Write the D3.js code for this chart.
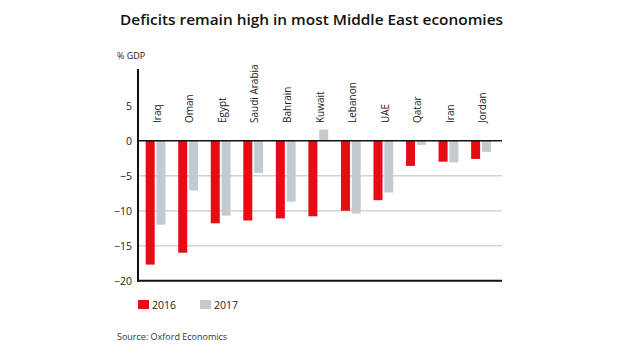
<!DOCTYPE html>
<html><head><meta charset="utf-8">
<script src="https://cdn.jsdelivr.net/npm/d3@7"></script>
<style>body{margin:0;background:#fff}svg{display:block}text{font-family:"Open Sans",sans-serif}</style>
</head><body><svg id="c" width="620" height="355"></svg>
<script>
const countries = ["Iraq","Oman","Egypt","Saudi Arabia","Bahrain","Kuwait","Lebanon","UAE","Qatar","Iran","Jordan"];
const values2016 = [-17.7,-16.0,-11.8,-11.4,-11.1,-10.8,-10.0,-8.5,-3.6,-3.0,-2.6];
const values2017 = [-12.0,-7.1,-10.7,-4.6,-8.7,1.6,-10.4,-7.4,-0.6,-3.1,-1.6];
const yTicks = [-20,-15,-10,-5,0,5];
const seriesNames = ["2016","2017"];
const colors = ["#ea0a14","#c3cbd0"];

const svg = d3.select("#c");
const x = d3.scaleBand().domain(countries).range([139,497]);
const y = d3.scaleLinear().domain([-20,10]).range([280.7,70.7]);
const sub = d3.scaleOrdinal().domain(seriesNames).range([-9.6,1.2]);
const barW = 9;

svg.append("text").attr("x",120).attr("y",25)
  .attr("font-size",15).attr("font-weight",600).attr("fill","#111")
  .attr("textLength",383).attr("lengthAdjust","spacingAndGlyphs")
  .text("Deficits remain high in most Middle East economies");
svg.append("text").attr("x",117).attr("y",59).attr("font-size",9).attr("fill","#222").text("% GDP");

// gridlines
svg.append("g").selectAll("line").data(yTicks.filter(t=>t!==0&&t!==-20&&t<0)).join("line")
  .attr("x1",139).attr("x2",502).attr("y1",d=>y(d)).attr("y2",d=>y(d))
  .attr("stroke","#d4d4d4").attr("stroke-width",1.5);

// y axis
const yAxis = d3.axisLeft(y).tickValues(yTicks).tickSize(0).tickPadding(6).tickFormat(d3.format("d"));
const ga = svg.append("g").attr("transform","translate(138,0)").call(yAxis);
ga.select(".domain").remove();
ga.selectAll("text").attr("font-size",10.5).attr("fill","#222").attr("font-family","Open Sans, sans-serif");

// bars
const series = [values2016, values2017];
series.forEach((vals,i)=>{
  svg.append("g").selectAll("rect").data(countries).join("rect")
    .attr("x",(d)=>x(d)+x.bandwidth()/2+sub(seriesNames[i]))
    .attr("width",barW)
    .attr("y",(d,j)=>y(Math.max(0,vals[j])))
    .attr("height",(d,j)=>Math.abs(y(vals[j])-y(0)))
    .attr("fill",colors[i]);
});

// axis lines
svg.append("line").attr("x1",138).attr("x2",138).attr("y1",69).attr("y2",y(-20)+1).attr("stroke","#111").attr("stroke-width",2);
svg.append("line").attr("x1",137).attr("x2",502).attr("y1",y(0)).attr("y2",y(0)).attr("stroke","#111").attr("stroke-width",1.6);
svg.append("line").attr("x1",137).attr("x2",502).attr("y1",y(-20)).attr("y2",y(-20)).attr("stroke","#111").attr("stroke-width",2);

// category labels
svg.append("g").selectAll("text").data(countries).join("text")
  .attr("transform",d=>`translate(${x(d)+x.bandwidth()/2+2},123) rotate(-90)`)
  .attr("dy","0.35em").attr("font-size",10).attr("fill","#222").text(d=>d);

// legend
const lg = svg.append("g");
seriesNames.forEach((s,i)=>{
  const lx = 138 + i*62;
  lg.append("rect").attr("x",lx).attr("y",300).attr("width",11).attr("height",9).attr("fill",colors[i]);
  lg.append("text").attr("x",lx+14).attr("y",308.5).attr("font-size",10.5).attr("fill","#222").text(s);
});

svg.append("text").attr("x",117).attr("y",340).attr("font-size",9).attr("fill","#333").text("Source: Oxford Economics");
</script></body></html>
